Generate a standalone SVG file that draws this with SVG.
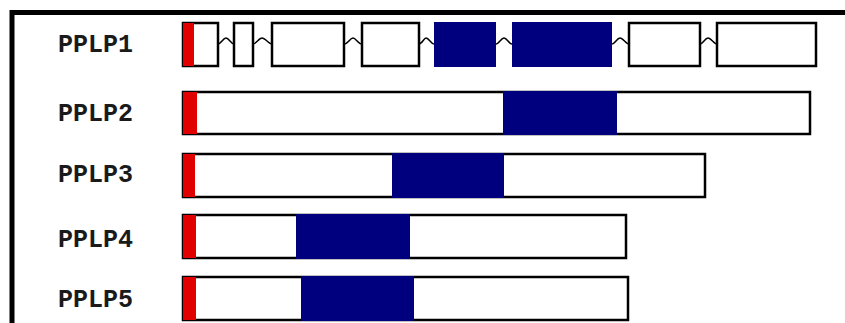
<svg xmlns="http://www.w3.org/2000/svg" width="845" height="323" viewBox="0 0 845 323">
<defs>
<style>
.lbl{font-family:"Liberation Mono","Courier New",monospace;font-weight:bold;font-size:25px;fill:#1a1a1a;text-anchor:end}
.box{fill:#fff;stroke:#000;stroke-width:2.5}
.red{fill:#e10000}
.blue{fill:#00007f}
.link{fill:none;stroke:#000;stroke-width:1.5}
</style>
</defs>
<rect width="845" height="323" fill="#fff"/>
<path d="M12,330 V12.5 H850" fill="none" stroke="#000" stroke-width="5"/>

<g id="PPLP1">
<text class="lbl" x="133" y="52">PPLP1</text>
<rect class="box" x="183" y="23" width="35" height="43"/>
<rect class="red" x="183" y="23" width="11" height="43"/>
<rect class="box" x="234" y="23" width="19" height="43"/>
<rect class="box" x="272" y="23" width="72" height="43"/>
<rect class="box" x="362" y="23" width="57" height="43"/>
<rect class="blue" x="434" y="22" width="62" height="45"/>
<rect class="blue" x="512" y="22" width="100" height="45"/>
<rect class="box" x="629" y="23" width="71" height="43"/>
<rect class="box" x="717" y="23" width="99" height="43"/>
</g>

<g id="connectors">
<path class="link" d="M218,44 C221,44 223,38 226,38 C229,38 231,44 234,44"/>
<path class="link" d="M253,44 C256,44 259,38 262,38 C265,38 269,44 272,44"/>
<path class="link" d="M344,44 C348,44 350,38 353,38 C356,38 358,44 362,44"/>
<path class="link" d="M419,44 C422,44 424,38 426,38 C429,38 431,44 434,44"/>
<path class="link" d="M496,44 C499,44 501,38 504,38 C507,38 509,44 512,44"/>
<path class="link" d="M612,44 C615,44 617,38 620,38 C623,38 626,44 629,44"/>
<path class="link" d="M700,44 C703,44 705,38 708,38 C711,38 714,44 717,44"/>
</g>

<g id="PPLP2">
<text class="lbl" x="133" y="121">PPLP2</text>
<rect class="box" x="183" y="92" width="627" height="42"/>
<rect class="red" x="183" y="92" width="14" height="42"/>
<rect class="blue" x="503" y="91" width="114" height="44"/>
</g>

<g id="PPLP3">
<text class="lbl" x="133" y="182">PPLP3</text>
<rect class="box" x="183" y="154" width="522" height="43"/>
<rect class="red" x="183" y="154" width="12" height="43"/>
<rect class="blue" x="392" y="153" width="112" height="45"/>
</g>

<g id="PPLP4">
<text class="lbl" x="133" y="247">PPLP4</text>
<rect class="box" x="183" y="215" width="443" height="43"/>
<rect class="red" x="183" y="215" width="13" height="43"/>
<rect class="blue" x="296" y="214" width="114" height="45"/>
</g>

<g id="PPLP5">
<text class="lbl" x="133" y="307">PPLP5</text>
<rect class="box" x="183" y="277" width="445" height="43"/>
<rect class="red" x="183" y="277" width="13" height="43"/>
<rect class="blue" x="301" y="276" width="113" height="45"/>
</g>
</svg>
